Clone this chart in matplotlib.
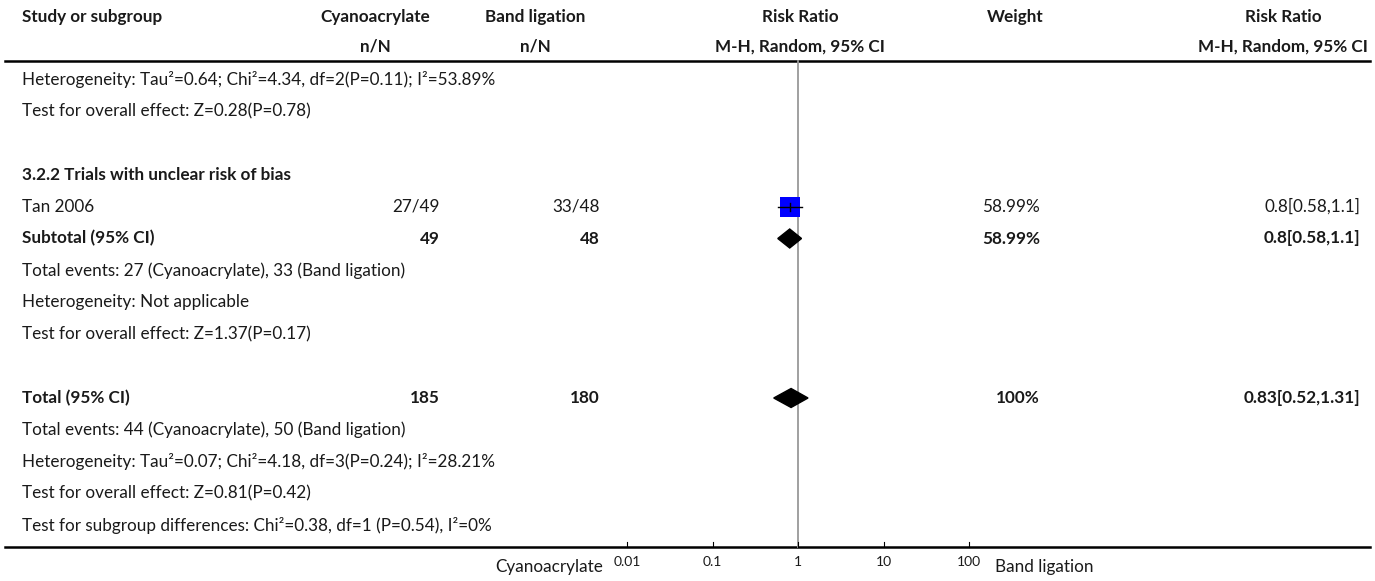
import numpy as np
import matplotlib.pyplot as plt
from matplotlib.patches import Polygon

plt.rcParams['font.family'] = ['Lato', 'DejaVu Sans']

W, H = 1375, 581

# --- DATA ---
col_headers = ["Study or subgroup", "Cyanoacrylate", "Band ligation", "Risk Ratio", "Weight", "Risk Ratio"]
col_subheaders = ["", "n/N", "n/N", "M-H, Random, 95% CI", "", "M-H, Random, 95% CI"]

row_labels = [
    "Heterogeneity: Tau²=0.64; Chi²=4.34, df=2(P=0.11); I²=53.89%",
    "Test for overall effect: Z=0.28(P=0.78)",
    "",
    "3.2.2 Trials with unclear risk of bias",
    "Tan 2006",
    "Subtotal (95% CI)",
    "Total events: 27 (Cyanoacrylate), 33 (Band ligation)",
    "Heterogeneity: Not applicable",
    "Test for overall effect: Z=1.37(P=0.17)",
    "",
    "Total (95% CI)",
    "Total events: 44 (Cyanoacrylate), 50 (Band ligation)",
    "Heterogeneity: Tau²=0.07; Chi²=4.18, df=3(P=0.24); I²=28.21%",
    "Test for overall effect: Z=0.81(P=0.42)",
    "Test for subgroup differences: Chi²=0.38, df=1 (P=0.54), I²=0%",
]
row_kind = ["note", "note", "blank", "group", "study", "subtotal", "note", "note", "note",
            "blank", "total", "note", "note", "note", "note"]
cyano_n = ["", "", "", "", "27/49", "49", "", "", "", "", "185", "", "", "", ""]
band_n = ["", "", "", "", "33/48", "48", "", "", "", "", "180", "", "", "", ""]
weight_txt = ["", "", "", "", "58.99%", "58.99%", "", "", "", "", "100%", "", "", "", ""]
rr_txt = ["", "", "", "", "0.8[0.58,1.1]", "0.8[0.58,1.1]", "", "", "", "", "0.83[0.52,1.31]", "", "", "", ""]
rr = [None, None, None, None, 0.8, 0.8, None, None, None, None, 0.83, None, None, None, None]
rr_lo = [None, None, None, None, 0.58, 0.58, None, None, None, None, 0.52, None, None, None, None]
rr_hi = [None, None, None, None, 1.1, 1.1, None, None, None, None, 1.31, None, None, None, None]

axis_ticks = [0.01, 0.1, 1, 10, 100]
axis_ticklabels = ["0.01", "0.1", "1", "10", "100"]
favours_left = "Cyanoacrylate"
favours_right = "Band ligation"

# --- LAYOUT (pixels) ---
row_y0, row_dy = 79, 31.9
head_y1, head_y2 = 17, 47
top_line_y, bottom_line_y = 61, 547
fs = 12.3
txt_col = "#1a1a1a"

fig = plt.figure(figsize=(W / 100, H / 100), dpi=100)
ax = fig.add_axes([0, 0, 1, 1])
ax.set_xlim(0, W)
ax.set_ylim(H, 0)
ax.axis("off")

# forest axes: log scale, 0.01 at x=627, 100 at x=969
px_lo, px_hi = 600, 1000
dec = (969 - 627) / 4
fx0 = 10 ** (-2 - (627 - px_lo) / dec)
fx1 = 10 ** (2 + (px_hi - 969) / dec)
fax = fig.add_axes([px_lo / W, 0, (px_hi - px_lo) / W, 1])
fax.set_xscale("log")
fax.set_xlim(fx0, fx1)
fax.set_ylim(H, 0)
fax.axis("off")

# headers
head_x = [22, 375, 535, 800, 1015, 1283]
head_ha = ["left", "center", "center", "center", "center", "center"]
for x, ha, t1, t2 in zip(head_x, head_ha, col_headers, col_subheaders):
    ax.text(x, head_y1, t1, ha=ha, va="center", fontsize=fs, fontweight="bold", color=txt_col)
    if t2:
        ax.text(x, head_y2, t2, ha=ha, va="center", fontsize=fs, fontweight="bold", color=txt_col)

ax.plot([5, 1370], [top_line_y, top_line_y], color="black", lw=1.8)
ax.plot([5, 1370], [bottom_line_y, bottom_line_y], color="black", lw=1.8)

# rows
for i, lab in enumerate(row_labels):
    y = row_y0 + i * row_dy
    kind = row_kind[i]
    bold = "bold" if kind in ("group", "subtotal", "total") else "normal"
    ax.text(22, y, lab, ha="left", va="center", fontsize=fs, fontweight=bold, color=txt_col)
    ax.text(440, y, cyano_n[i], ha="right", va="center", fontsize=fs, fontweight=bold, color=txt_col)
    ax.text(600, y, band_n[i], ha="right", va="center", fontsize=fs, fontweight=bold, color=txt_col)
    ax.text(1040, y, weight_txt[i], ha="right", va="center", fontsize=fs, fontweight=bold, color=txt_col)
    ax.text(1360, y, rr_txt[i], ha="right", va="center", fontsize=fs, fontweight=bold, color=txt_col)

    if rr[i] is None:
        continue
    if kind == "study":
        fax.plot([rr_lo[i], rr_hi[i]], [y, y], color="black", lw=1, zorder=4)
        fax.plot([rr[i]], [y], marker="s", color="#0000ff", markersize=13.7, mew=0, zorder=3)
        fax.plot([rr[i], rr[i]], [y - 4, y + 4], color="black", lw=1, zorder=4)
    else:
        pts = [(rr_lo[i], y), (rr[i], y - 9.5), (rr_hi[i], y), (rr[i], y + 9.5)]
        fax.add_patch(Polygon(pts, closed=True, color="black", zorder=3))

# null line
fax.plot([1, 1], [top_line_y, bottom_line_y], color="#999999", lw=1.3, zorder=2)

# axis ticks
for t, lab in zip(axis_ticks, axis_ticklabels):
    fax.plot([t, t], [bottom_line_y, bottom_line_y - 5], color="black", lw=0.8)
    fax.text(t, 562, lab, ha="center", va="center", fontsize=10, color=txt_col)

ax.text(603, 567, favours_left, ha="right", va="center", fontsize=fs, color=txt_col)
ax.text(995, 567, favours_right, ha="left", va="center", fontsize=fs, color=txt_col)

fig.savefig("out.png", dpi=100)
